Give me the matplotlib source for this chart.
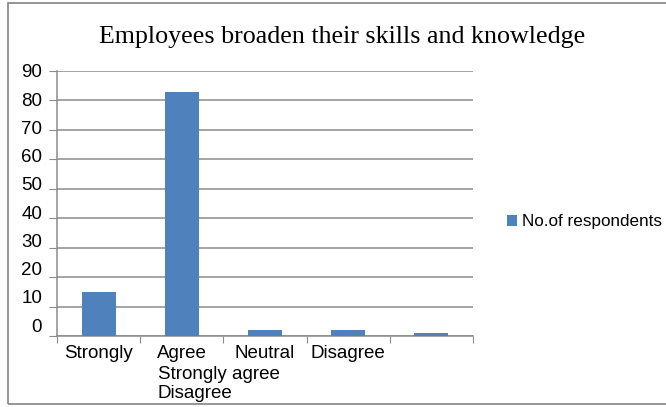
import numpy as np
import matplotlib
matplotlib.use("Agg")
import matplotlib.pyplot as plt
from matplotlib.patches import Rectangle

plt.rcParams["font.family"] = "Liberation Sans"

# data
categories = ["Strongly agree", "Agree", "Neutral", "Disagree", "Strongly disagree"]
respondents = [15, 83, 2, 2, 1]
tick_labels = ["Strongly", "Agree", "Neutral", "Disagree", ""]
wrapped_label = "Strongly agree\nDisagree"
yticks = np.arange(0, 100, 10)
series_name = "No.of respondents"
title = "Employees broaden their skills and knowledge"

W, H = 666, 407
fig = plt.figure(figsize=(W/100, H/100), dpi=100)

# outer frame of the chart area
fig.patches.append(Rectangle((8/W, 3/H), 1.2, 1 - 6/H, transform=fig.transFigure,
                             fill=False, edgecolor="#8c8c8c", linewidth=1.3))

ax = fig.add_axes([57/W, 1 - 336/H, (473 - 57)/W, (336 - 71)/H])

x = np.arange(len(categories))
ax.bar(x, respondents, width=0.41, color="#4F81BD", label=series_name, zorder=3)

ax.set_xlim(-0.5, len(categories) - 0.5)
ax.set_ylim(0, 90)
ax.set_yticks(yticks)
ax.set_yticklabels([])
ax.tick_params(axis="y", length=6, color="#8c8c8c")
ax.grid(axis="y", color="#8c8c8c", linewidth=1.1, zorder=0)
# the value labels sit slightly compressed against the gridlines, as in the source
for v in yticks:
    ax.text(-0.68, 3.7 + v * 0.959, str(v), ha="right", va="center_baseline",
            fontsize=13.5)

# category boundaries as ticks
ax.set_xticks(np.arange(-0.5, len(categories), 1.0))
ax.set_xticklabels([])
ax.tick_params(axis="x", length=5, color="#8c8c8c")
for i, lab in enumerate(tick_labels):
    ax.text(x[i], -3.0, lab, ha="center", va="top", fontsize=13.5)
ax.text(x[1] - 0.29, -10.3, wrapped_label, ha="left", va="top", fontsize=13.5,
        linespacing=1.15)

for s in ["top", "right"]:
    ax.spines[s].set_visible(False)
for s in ["left", "bottom"]:
    ax.spines[s].set_color("#8c8c8c")
    ax.spines[s].set_linewidth(1.1)

fig.text(342/W, 1 - 37/H, title, ha="center", va="center", fontsize=18.7,
         family="Liberation Serif")

ax.legend(loc="center left", bbox_to_anchor=(500/W, 1 - 222/H), bbox_transform=fig.transFigure,
          frameon=False, fontsize=12.3, handlelength=0.6, handleheight=0.6,
          handletextpad=0.3, borderaxespad=0)

fig.savefig("out.png", dpi=100)
